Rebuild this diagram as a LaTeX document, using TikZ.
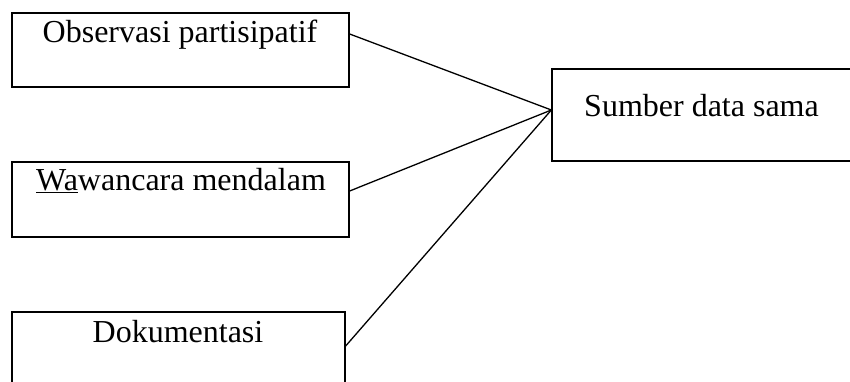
\documentclass[tikz,border=0pt]{standalone}
\usepackage{fontspec}
\setmainfont{Liberation Serif}
\begin{document}
\begin{tikzpicture}[x=1pt,y=-1pt,
  box/.style={draw, line width=1.3pt, inner sep=0pt},
  lbl/.style={anchor=base, inner sep=0pt, font=\fontsize{32}{38}\selectfont},
  link/.style={line width=1.3pt}]
\clip (0,0) rectangle (850,382);
\node[box, minimum width=337pt, minimum height=74pt] (b1) at (180.5,50) {};
\node[box, minimum width=337pt, minimum height=75pt] (b2) at (180.5,199.5) {};
\node[box, minimum width=333pt, minimum height=75pt] (b3) at (178.5,349.5) {};
\node[box, minimum width=300pt, minimum height=92pt] (b4) at (702,115) {};
\node[lbl] (t1) at (180,43) {Observasi partisipatif};
\node[lbl] (t2) at (181,190) {\underline{Wa}wancara mendalam};
\node[lbl] (t3) at (178,342) {Dokumentasi};
\node[lbl] (t4) at (701.5,117) {Sumber data sama};
\draw[link] ([yshift=16pt]b1.east) -- ([yshift=5pt]b4.west);
\draw[link] ([yshift=8.5pt]b2.east) -- ([yshift=5pt]b4.west);
\draw[link] ([yshift=3.5pt]b3.east) -- ([yshift=5pt]b4.west);
\end{tikzpicture}
\end{document}
